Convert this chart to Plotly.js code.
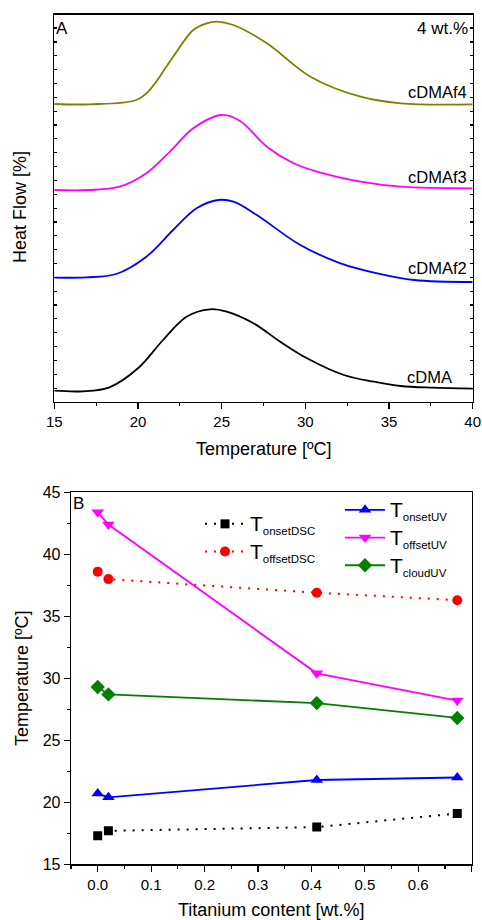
<!DOCTYPE html>
<html>
<head>
<meta charset="utf-8">
<script src="https://cdn.plot.ly/plotly-3.0.1.min.js"></script>
<style>html,body{margin:0;padding:0;background:#fff;}#chart{width:482px;height:920px;}</style>
</head>
<body>
<div id="chart"></div>
<script>
// ---------- Panel A data (Heat flow curves, arbitrary offset units) ----------
const cdmaT   = [15,16.7,18.3,20,21.5,22.9,24.3,25.3,26.9,28.5,30.1,32.3,34.1,35.7,37.6,40];
const cdmaHF  = [11.3,10.7,14.7,33.7,62,85.3,92.7,90.3,78.7,60.3,43.7,27,20.3,16,14.3,13.3];
const f2T     = [15,16.9,18.7,20.5,22.1,23.5,24.8,25.7,27.1,29.7,32.1,34.3,36.5,40];
const f2HF    = [124.3,124.7,128,145.3,172,193.7,202,200.3,187,157,138.7,128.7,122,120];
const f3T     = [15,17.1,18.9,20.5,22.1,23.3,25.0,26.1,27.7,29.3,30.7,33.3,35.7,40];
const f3HF    = [212,212,215.3,228.7,253.7,273.7,287,281,255.3,238.7,230.3,220.3,215.3,213.7];
const f4T     = [15,17.1,19.9,20.7,22.1,23.3,24.1,24.7,25.7,27.7,30.3,33.3,35.7,40];
const f4HF    = [298,297.7,302,312,345.3,372,378.7,380.3,377,358.7,325.3,305.3,298.7,297.7];
const curveNames = ["cDMA","cDMAf2","cDMAf3","cDMAf4"];

// ---------- Panel B data ----------
const titanium  = [0, 0.02, 0.41, 0.673];
const onsetDSC  = [17.3, 17.7, 18.0, 19.1];
const offsetDSC = [38.6, 38.0, 36.9, 36.3];
const onsetUV   = [20.7, 20.4, 21.8, 22.0];
const offsetUV  = [43.4, 42.4, 30.4, 28.2];
const cloudUV   = [29.3, 28.7, 28.0, 26.8];
const seriesSubs = ["onsetDSC","offsetDSC","onsetUV","offsetUV","cloudUV"];

const W = 482, H = 920;
const px = x => x / W;
const py = y => 1 - y / H;
const FONT = "Liberation Sans, Arial, sans-serif";
const legName = s => '<span style="font-size:21px">T</span><sub><span style="font-size:11.5px">' + s + '</span></sub>';

const lineA = (x, y, color) => ({
  x: x, y: y, xaxis: 'x', yaxis: 'y', type: 'scatter', mode: 'lines',
  line: {color: color, width: 1.8, shape: 'spline', smoothing: 1}, showlegend: false, hoverinfo: 'skip'
});

const data = [
  lineA(cdmaT, cdmaHF, '#000000'),
  lineA(f2T, f2HF, '#0000ff'),
  lineA(f3T, f3HF, '#ff00ff'),
  lineA(f4T, f4HF, '#808000'),
  {x: titanium, y: onsetDSC, xaxis: 'x2', yaxis: 'y2', mode: 'lines+markers', name: legName(seriesSubs[0]), legend: 'legend',
   line: {color: '#000000', width: 2, dash: '2px,7px'}, marker: {symbol: 'square', size: 9, color: '#000000'}},
  {x: titanium, y: offsetDSC, xaxis: 'x2', yaxis: 'y2', mode: 'lines+markers', name: legName(seriesSubs[1]), legend: 'legend',
   line: {color: '#ff0000', width: 2, dash: '2px,7px'}, marker: {symbol: 'circle', size: 10, color: '#ff0000'}},
  {x: titanium, y: onsetUV, xaxis: 'x2', yaxis: 'y2', mode: 'lines+markers', name: legName(seriesSubs[2]), legend: 'legend2',
   line: {color: '#0000ff', width: 1.8}, marker: {symbol: 'triangle-up', size: 11, color: '#0000ff'}},
  {x: titanium, y: offsetUV, xaxis: 'x2', yaxis: 'y2', mode: 'lines+markers', name: legName(seriesSubs[3]), legend: 'legend2',
   line: {color: '#ff00ff', width: 1.8}, marker: {symbol: 'triangle-down', size: 11, color: '#ff00ff'}},
  {x: titanium, y: cloudUV, xaxis: 'x2', yaxis: 'y2', mode: 'lines+markers', name: legName(seriesSubs[4]), legend: 'legend2',
   line: {color: '#007f00', width: 1.8}, marker: {symbol: 'diamond', size: 11, color: '#007f00'}}
];

const axLine = {showline: true, linecolor: '#000', linewidth: 1.3, showgrid: false, zeroline: false, tickcolor: '#000', tickwidth: 1.2};

const ann = (text, x, y, xanchor, size, angle) => ({
  text: text, x: px(x), y: py(y), xref: 'paper', yref: 'paper', xanchor: xanchor, yanchor: 'middle',
  showarrow: false, font: {size: size}, textangle: angle || 0
});

const layout = {
  width: W, height: H,
  margin: {l: 0, r: 0, t: 0, b: 0},
  paper_bgcolor: '#fff', plot_bgcolor: '#fff',
  font: {family: FONT, color: '#000', size: 15},
  // Panel A
  xaxis: Object.assign({}, axLine, {domain: [px(54.3), px(472.7)], anchor: 'y', range: [15, 40], mirror: true,
    ticks: 'outside', ticklen: 6, dtick: 5, tick0: 15, tickfont: {size: 15},
    minor: {ticks: 'outside', ticklen: 3, dtick: 2.5, tick0: 15, tickcolor: '#000', tickwidth: 1.2}}),
  xaxis3: {overlaying: 'x', anchor: 'y', side: 'top', range: [15, 40], showline: false, showgrid: false, zeroline: false,
    ticks: 'inside', ticklen: 3, dtick: 2.5, tick0: 15, tickcolor: '#000', tickwidth: 1.2, showticklabels: false},
  yaxis: Object.assign({}, axLine, {domain: [py(402), py(14.7)], anchor: 'x', range: [0, 387.3], mirror: 'allticks',
    ticks: 'inside', ticklen: 3, dtick: 13.85, tick0: 0, showticklabels: false}),
  // Panel B
  xaxis2: Object.assign({}, axLine, {domain: [px(71), px(471.7)], anchor: 'y2', range: [-0.05, 0.7], mirror: true,
    ticks: 'outside', ticklen: 6, dtick: 0.1, tick0: 0, tickformat: '.1f', tickfont: {size: 15},
    minor: {ticks: 'outside', ticklen: 3, dtick: 0.05, tick0: 0, tickcolor: '#000', tickwidth: 1.2}}),
  xaxis4: {overlaying: 'x2', anchor: 'y2', side: 'top', range: [-0.05, 0.7], showline: false, showgrid: false, zeroline: false,
    ticks: 'inside', ticklen: 3, dtick: 0.05, tick0: 0, tickcolor: '#000', tickwidth: 1.2, showticklabels: false},
  yaxis2: Object.assign({}, axLine, {domain: [py(864.3), py(492.3)], anchor: 'x2', range: [15, 45], mirror: true,
    ticks: 'outside', ticklen: 6, dtick: 5, tick0: 15, tickfont: {size: 16},
    minor: {ticks: 'outside', ticklen: 3, dtick: 2.5, tick0: 15, tickcolor: '#000', tickwidth: 1.2}}),
  yaxis3: {overlaying: 'y2', anchor: 'x2', side: 'right', range: [15, 45], showline: false, showgrid: false, zeroline: false,
    ticks: 'inside', ticklen: 3, dtick: 2.5, tick0: 15, tickcolor: '#000', tickwidth: 1.2, showticklabels: false},
  legend: {x: px(200), y: py(505), xanchor: 'left', yanchor: 'top', bgcolor: 'rgba(0,0,0,0)',
    font: {size: 19, family: FONT}, itemwidth: 40, tracegroupgap: 0},
  legend2: {x: px(340), y: py(491), xanchor: 'left', yanchor: 'top', bgcolor: 'rgba(0,0,0,0)',
    font: {size: 19, family: FONT}, itemwidth: 40, tracegroupgap: 0},
  annotations: [
    ann('A', 54, 29, 'left', 17),
    ann('4 wt.%', 470, 29, 'right', 17),
    ann(curveNames[3], 469, 92, 'right', 16.5),
    ann(curveNames[2], 469, 177, 'right', 16.5),
    ann(curveNames[1], 469, 268, 'right', 16.5),
    ann(curveNames[0], 454, 377, 'right', 16.5),
    ann('Heat Flow [%]', 20, 207, 'center', 18, -90),
    ann('Temperature [ºC]', 264, 449, 'center', 18),
    ann('B', 71, 504, 'left', 17),
    ann('Temperature [ºC]', 22, 678, 'center', 18, -90),
    ann('Titanium content [wt.%]', 271, 910, 'center', 18)
  ]
};

Plotly.newPlot('chart', data, layout, {staticPlot: true, displayModeBar: false});
</script>
</body>
</html>
